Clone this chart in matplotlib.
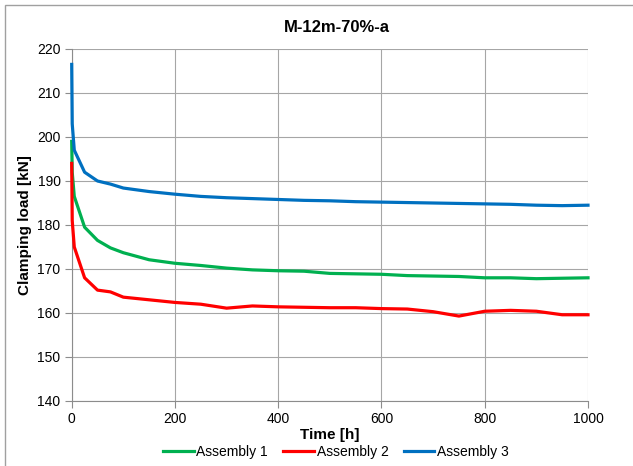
import matplotlib
matplotlib.use("Agg")
import matplotlib.pyplot as plt
from matplotlib.patches import Rectangle

# === data ===
time_h = [0, 1, 5, 25, 50, 75, 100, 150, 200, 250, 300, 350, 400, 450, 500,
          550, 600, 650, 700, 750, 800, 850, 900, 950, 1000]
assembly_1 = [199.0, 192.0, 186.5, 179.5, 176.5, 174.8, 173.7, 172.1, 171.3, 170.8,
              170.2, 169.8, 169.6, 169.5, 169.0, 168.9, 168.8, 168.5, 168.4, 168.3,
              168.0, 168.0, 167.8, 167.9, 168.0]
assembly_2 = [194.0, 181.0, 175.0, 168.0, 165.2, 164.8, 163.6, 163.0, 162.4, 162.0,
              161.1, 161.6, 161.4, 161.3, 161.2, 161.2, 161.0, 160.9, 160.3, 159.3,
              160.4, 160.6, 160.4, 159.6, 159.6]
assembly_3 = [216.5, 203.0, 197.0, 192.0, 190.0, 189.3, 188.4, 187.6, 187.0, 186.5,
              186.2, 186.0, 185.8, 185.6, 185.5, 185.3, 185.2, 185.1, 185.0, 184.9,
              184.8, 184.7, 184.5, 184.4, 184.5]
series = [("Assembly 1", assembly_1, "#00b050"),
          ("Assembly 2", assembly_2, "#ff0000"),
          ("Assembly 3", assembly_3, "#0070c0")]

plt.rcParams["font.family"] = ["Liberation Sans", "DejaVu Sans"]

fig = plt.figure(figsize=(6.33, 4.66), dpi=100)
ax = fig.add_axes([71.7 / 633, 65 / 466, (588 - 71.7) / 633, (401 - 49) / 466])

# lines drawn unclipped so the spike at t=0 keeps its full width, as in Excel
for name, vals, col in series:
    ax.plot(time_h, vals, color=col, lw=2.3, label=name,
            solid_joinstyle="round", clip_on=False, zorder=3)

ax.set_xlim(0, 1000)
ax.set_ylim(140, 220)
ax.set_xticks(range(0, 1001, 200))
ax.set_yticks(range(140, 221, 10))
ax.grid(True, color="#a6a6a6", lw=0.8)
ax.set_axisbelow(True)
for s in ["top", "right"]:
    ax.spines[s].set_visible(False)
for s in ["left", "bottom"]:
    ax.spines[s].set_color("#8c8c8c")
    ax.spines[s].set_linewidth(0.8)
ax.tick_params(length=5, width=0.8, color="#8c8c8c", labelsize=10, pad=3)

ax.set_xlabel("Time [h]", fontsize=11, fontweight="bold", labelpad=1)
ax.set_ylabel("Clamping load [kN]", fontsize=11, fontweight="bold", labelpad=4)
fig.text(337 / 633, 1 - 28 / 466, "M-12m-70%-a", fontsize=12, fontweight="bold",
         ha="center", va="center")

fig.legend(loc="center", bbox_to_anchor=(336 / 633, 1 - 452 / 466), ncol=3,
           frameon=False, fontsize=10, handlelength=2.2, handletextpad=0.2,
           columnspacing=1.1)

# chart border (cut off on the right and bottom)
fig.patches.append(Rectangle((5 / 633, -0.05), 1.0, 1.05 - 5 / 466, transform=fig.transFigure,
                             fill=False, edgecolor="#a0a0a0", lw=1))

fig.savefig("out.png", dpi=100)
